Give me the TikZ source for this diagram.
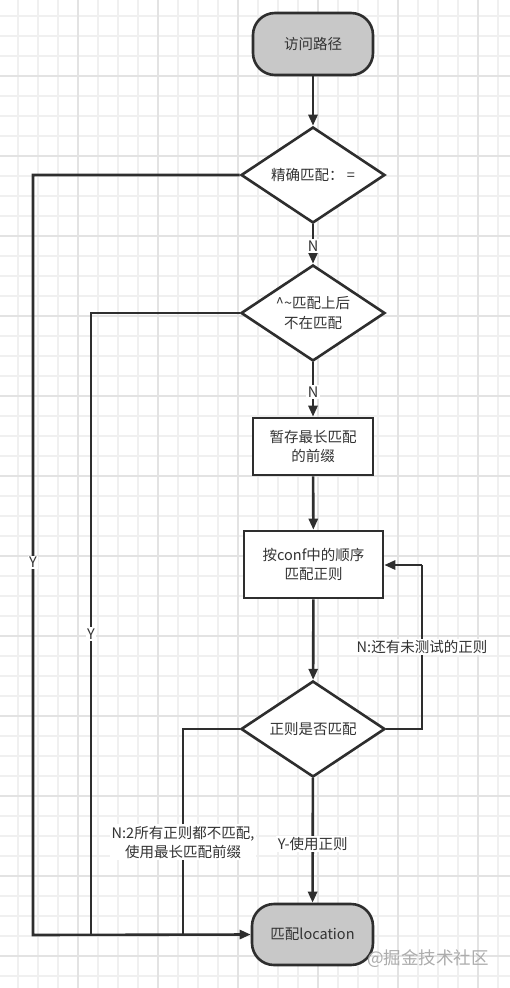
\documentclass[tikz,border=0pt]{standalone}
\usepackage{fontspec}
\setmainfont{Noto Sans CJK SC}
\usetikzlibrary{shapes.geometric,arrows.meta}
\definecolor{ln}{HTML}{2E2E2E}
\definecolor{txt}{HTML}{333333}
\definecolor{fillgray}{HTML}{C8C8C8}
\definecolor{gminor}{HTML}{F0F0F0}
\definecolor{gmajor}{HTML}{E3E3E3}
\tikzset{
  base/.style={draw=ln, line width=2.6pt, text=txt, font=\fontsize{14.5}{19.5}\selectfont, align=center, inner sep=0pt},
  term/.style={base, fill=fillgray, rounded corners=22pt, minimum width=120pt, minimum height=62pt},
  proc/.style={base, fill=white, minimum width=120pt, minimum height=57pt},
  dec/.style={base, fill=white, diamond, shape aspect=1.5, minimum width=144pt, minimum height=96pt},
  conn/.style={draw=ln, line width=2.6pt},
  arr/.style={conn, -{Triangle[length=11pt,width=9pt]}},
  lab/.style={fill=white, text=txt, font=\fontsize{14.5}{19.5}\selectfont, align=center, inner sep=1.5pt},
}
\begin{document}
\begin{tikzpicture}[x=1pt,y=-1pt]
\useasboundingbox (0,0) rectangle (510,988);
\fill[white] (0,0) rectangle (510,988);
% grid
\foreach \k in {0,...,24} {\draw[gminor, line width=1.3pt] ({18+20*\k},0) -- ({18+20*\k},988);}
\foreach \k in {0,...,48} {\draw[gminor, line width=1.3pt] (0,{16+20*\k}) -- (510,{16+20*\k});}
\foreach \k in {0,...,5} {\draw[gmajor, line width=1.8pt] ({78+80*\k},0) -- ({78+80*\k},988);}
\foreach \k in {0,...,11} {\draw[gmajor, line width=1.8pt] (0,{76+80*\k}) -- (510,{76+80*\k});}

% nodes
\node[term] (start) at (313,44) {访问路径};
\node[dec] (d1) at (313,175) {精确匹配： =};
\node[dec] (d2) at (313,313) {\^{}\textasciitilde 匹配上后\\不在匹配};
\node[proc] (box1) at (313,446.5) {暂存最长匹配\\的前缀};
\node[proc, minimum width=139pt, minimum height=67pt] (box2) at (313.5,564.5) {按conf中的顺序\\匹配正则};
\node[dec] (d3) at (313,729) {正则是否匹配};
\node[term, minimum width=121pt, minimum height=61pt] (end) at (312.5,934.5) {匹配location};

\node[text=gray!65, font=\fontsize{17.5}{17.5}\selectfont, inner sep=0pt] (wm) at (428,959) {@掘金技术社区};

% coordinates
\coordinate (c1a) at (33,175);
\coordinate (c1b) at (33,935);
\coordinate (c2a) at (91,313);
\coordinate (c2b) at (91,935);
\coordinate (c3a) at (183,729);
\coordinate (c3b) at (183,935);
\coordinate (lpa) at (422,729);
\coordinate (lpb) at (422,565);

% edges
\draw[arr] (start) -- (d1);
\draw[arr] (d1) -- node[lab, pos=0.55] {N} (d2);
\draw[arr] (d2) -- node[lab, pos=0.55] {N} (box1);
\draw[arr] (box1) -- (box2);
\draw[arr] (box2) -- (d3);
\draw[conn] (d3.east) -- (lpa) -- node[lab] {N:还有未测试的正则} (lpb);
\draw[arr] (lpb) -- (box2.east |- lpb);
\draw[arr] (d3) -- node[lab, pos=0.53] {Y-使用正则} (end);
\draw[conn] (d3.west) -- (c3a) -- node[lab, pos=0.55] {N:2所有正则都不匹配,\\使用最长匹配前缀} (c3b);
\draw[conn] (d2.west) -- (c2a) -- node[lab, pos=0.516] {Y} (c2b);
\draw[arr] (d1.west) -- (c1a) -- node[lab, pos=0.51] {Y} (c1b) -- (end.west);
\end{tikzpicture}
\end{document}
